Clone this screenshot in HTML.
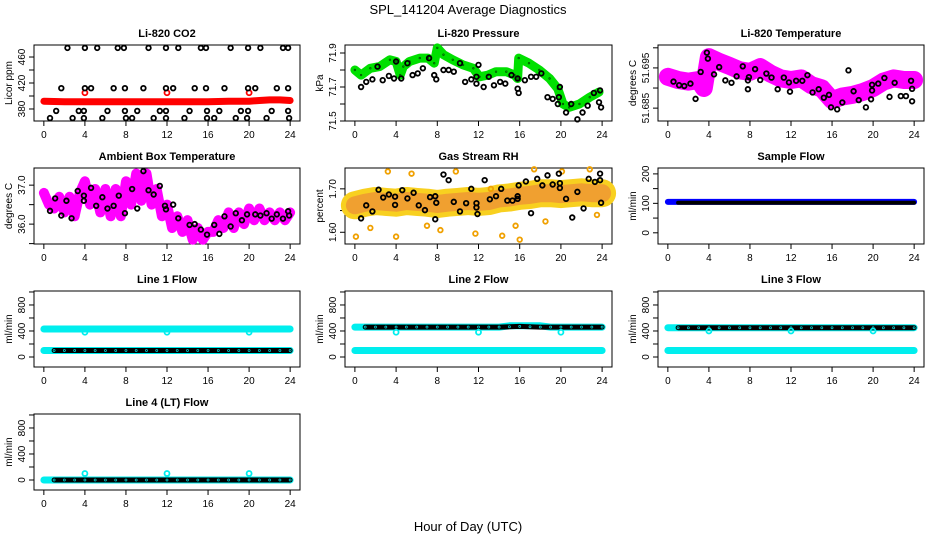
<!DOCTYPE html>
<html><head><meta charset="utf-8"><style>
html,body{margin:0;padding:0;background:#fff;}
svg{display:block;font-family:"Liberation Sans",sans-serif;}
</style></head><body>
<svg id="chart" width="936" height="540" viewBox="0 0 936 540" xmlns="http://www.w3.org/2000/svg">
<rect width="936" height="540" fill="#fff"/>
<text x="468" y="14" text-anchor="middle" font-size="13">SPL_141204  Average Diagnostics</text>
<text x="468" y="531" text-anchor="middle" font-size="13">Hour of Day (UTC)</text>
</svg>
<script>
// ---------- data ----------
const hourTicks = [0,4,8,12,16,20,24];
// CO2
const co2RedHours = [0,2,4,6,8,10,12,14,16,18,20,21,22,23,24];
const co2RedVals  = [392,391,391,391,391,391,391,391,391,392,392,393,394,394,393];
const co2RedSpikeHours = [4,12,20];
const co2RedSpikeVals  = [405,405,405];
const co2BlackHours = [2.3,4.0,5.2,7.2,7.8,10.2,11.9,13.1,15.3,15.8,18.2,19.9,21.1,23.3,23.8,
 1.7,4.0,4.6,6.8,7.9,9.7,11.9,12.6,14.7,15.8,17.6,19.9,20.6,22.7,23.8,
 1.2,3.4,3.9,6.2,7.9,9.1,11.3,11.9,14.2,15.9,17.1,19.2,19.9,22.2,23.8,
 0.6,2.8,3.9,5.7,8.0,8.6,10.7,11.9,13.7,15.9,16.6,18.7,19.8,21.7,23.9];
const co2BlackVals = [474,474,474,474,474,474,474,474,474,474,474,474,474,474,474,
 412,412,412,412,412,412,412,412,412,412,412,412,412,412,412,
 377,377,377,377,377,377,377,377,377,377,377,377,377,377,377,
 366,366,366,366,366,366,366,366,366,366,366,366,366,366,366];
// Pressure
const presGreenHours = [0,0.6,1.5,2.4,3.4,4,4.4,4.7,5.3,6.3,7.1,7.7,8,8.6,9.5,10.5,11.5,12.1,12.9,13.7,14.7,15.5,15.8,15.9,16.9,17.9,18.9,19.7,20.2,20.8,21.8,22.8,23.7];
const presGreenVals  = [71.80,71.77,71.81,71.82,71.86,71.85,71.77,71.82,71.85,71.87,71.87,71.84,71.93,71.89,71.86,71.83,71.81,71.76,71.77,71.79,71.79,71.77,71.75,71.87,71.84,71.80,71.75,71.69,71.60,71.58,71.60,71.64,71.67];
const presBlackHours = [0.6,1.1,1.7,2.2,2.7,3.3,3.8,4,4.5,5.1,5.6,6.1,6.6,7.2,7.7,7.9,8.6,9.1,9.6,10.2,10.7,11.3,11.8,11.8,12,12.5,13,13.5,14.1,14.6,15.2,15.8,15.8,15.9,16.5,17.1,17.6,18.1,18.7,19.2,19.7,19.8,19.9,20.5,21,21.6,22.1,22.6,23.2,23.7,23.9,23.8];
const presBlackVals  = [71.70,71.73,71.745,71.82,71.74,71.765,71.75,71.85,71.75,71.84,71.77,71.78,71.81,71.87,71.77,71.745,71.80,71.80,71.79,71.84,71.73,71.745,71.76,71.72,71.83,71.70,71.76,71.71,71.73,71.72,71.77,71.75,71.69,71.665,71.74,71.76,71.76,71.78,71.64,71.63,71.60,71.64,71.70,71.55,71.60,71.51,71.55,71.59,71.665,71.61,71.58,71.68];
// Li-820 temperature
const ltMagHours = [0,1,2,3,3.5,4,5,6,7,8,9,10,11,12,13,14,15,16,17,18,19,20,21,22,23,24];
const ltMagVals  = [51.6928,51.692,51.6916,51.692,51.690,51.6977,51.6965,51.6955,51.6944,51.694,51.6952,51.6936,51.6924,51.692,51.6924,51.6907,51.6899,51.687,51.6879,51.6883,51.689,51.690,51.6916,51.6924,51.692,51.692];
const ltBlackHours = [0.55,1.1,1.6,2.2,2.7,3.2,3.8,3.9,4.5,5,5.6,6.2,6.7,7.3,7.8,7.8,7.9,8.5,9,9.6,10.1,10.7,11.3,11.8,11.9,12.5,13.1,13.6,14.1,14.7,15.2,15.7,15.9,16.5,17,17.6,18.1,18.6,19.3,19.8,19.9,19.9,20.5,21.1,21.6,22.1,22.7,23.2,23.7,23.8,23.8];
const ltBlackVals  = [51.6916,51.6907,51.6905,51.6911,51.6873,51.694,51.6988,51.6973,51.6934,51.6952,51.6919,51.6913,51.6929,51.6954,51.6919,51.6897,51.6927,51.6947,51.6920,51.6936,51.6926,51.6897,51.6926,51.6914,51.6891,51.6918,51.6918,51.6932,51.6889,51.6897,51.6876,51.6883,51.6852,51.6847,51.6864,51.6944,51.6892,51.6870,51.6852,51.6872,51.6894,51.6908,51.6911,51.6925,51.6878,51.6913,51.6880,51.6880,51.6918,51.6898,51.6867];
// Ambient box temperature
const abMagHours = [0,0.5,1,1.5,2,2.5,3,3.5,4,4.5,5,5.5,6,6.5,7,7.5,8,8.5,9,9.5,10,10.5,11,11.5,12,12.5,13,13.5,14,14.5,15,15.5,16,16.5,17,17.5,18,18.5,19,19.5,20,20.5,21,21.5,22,22.5,23,23.5,24];
const abMagVals  = [36.8,36.5,36.4,36.7,36.3,36.7,36.2,36.8,37.1,36.5,36.9,36.3,36.9,36.2,36.9,36.2,37.1,36.5,37.3,36.6,37.3,36.5,36.9,36.2,36.5,35.9,36.2,35.8,36.1,35.6,35.9,35.6,35.8,35.8,36.1,35.9,36.3,35.9,36.3,36.0,36.4,36.1,36.4,36.1,36.3,36.1,36.3,36.1,36.3];
const abBlackHours = [0.6,1.1,1.7,2.2,2.7,3.3,3.9,3.9,4.6,5.1,5.7,6.2,6.8,7.3,7.9,8.6,9.1,9.7,10.2,10.7,11.3,11.8,11.9,12.6,13.1,14.2,14.7,15.3,15.9,16.6,17.1,17.6,18.2,18.7,19.3,19.8,20.6,21.1,21.7,22.2,22.7,23.3,23.8,23.9];
const abBlackVals  = [36.34,36.66,36.22,36.6,36.15,36.85,36.73,36.6,36.93,36.47,36.69,36.4,36.47,36.73,36.28,36.9,36.4,37.36,36.87,36.76,36.98,36.47,36.38,36.5,36.15,35.98,36.0,35.86,35.73,35.98,35.75,36.2,35.94,36.28,36.1,36.25,36.25,36.22,36.28,36.14,36.25,36.14,36.33,36.22];
// Gas stream RH
const rhCloudHours = [0,1,2,3,4,5,6,7,8,9,10,11,12,13,14,15,16,17,18,19,20,21,22,23,24];
const rhCloudVals  = [1.662,1.668,1.672,1.670,1.668,1.672,1.670,1.668,1.665,1.668,1.670,1.672,1.670,1.672,1.678,1.680,1.684,1.686,1.690,1.690,1.688,1.690,1.692,1.690,1.690];
const rhYellowHours = [0.1,1.5,3.2,4.0,5.5,7.0,8.3,9.8,11.7,13.2,14.3,15.6,16.0,17.4,18.5,20.1,22.8,23.5];
const rhYellowVals  = [1.590,1.610,1.740,1.590,1.735,1.615,1.605,1.740,1.597,1.700,1.592,1.615,1.583,1.745,1.625,1.740,1.745,1.640];
const rhBlackHours = [0.6,1.1,1.7,2.3,2.75,3.3,3.9,3.9,4.6,5.1,5.7,6.2,6.8,7.3,7.8,7.8,7.9,8.6,9.1,9.6,10.2,10.8,11.3,11.8,11.8,11.9,12.6,13.1,13.7,14.2,14.8,15.3,15.8,15.8,15.9,16.6,17.1,17.7,18.2,18.7,19.2,19.8,19.9,19.9,20.5,21.1,21.6,22.2,22.7,23.3,23.8,23.8,23.9];
const rhBlackVals  = [1.632,1.662,1.648,1.698,1.68,1.687,1.682,1.663,1.697,1.678,1.691,1.662,1.651,1.681,1.683,1.63,1.668,1.733,1.72,1.67,1.648,1.667,1.70,1.667,1.657,1.642,1.72,1.676,1.683,1.70,1.673,1.673,1.683,1.677,1.708,1.717,1.644,1.723,1.708,1.731,1.71,1.735,1.713,1.702,1.677,1.634,1.693,1.655,1.723,1.716,1.735,1.72,1.668];
// Flows (hourly values)
const flowHours = [0,1,2,3,4,5,6,7,8,9,10,11,12,13,14,15,16,17,18,19,20,21,22,23,24];
const sampleBlue  = [105,105,105,105,105,105,105,105,105,105,105,105,105,105,105,105,105,105,105,105,105,105,105,105,105];
const sampleBlack = [null,102,102,102,102,102,102,102,102,102,102,102,102,102,102,102,102,102,102,102,102,102,102,102,102];
const line1CyanHigh = [430,430,430,430,430,430,430,430,430,430,430,430,430,430,430,430,430,430,430,430,430,430,430,430,430];
const line1CyanLow  = [100,100,100,100,100,100,100,100,100,100,100,100,100,100,100,100,100,100,100,100,100,100,100,100,100];
const line1Black    = [null,100,100,100,100,100,100,100,100,100,100,100,100,100,100,100,100,100,100,100,100,100,100,100,100];
const line2CyanHigh = [460,460,460,460,460,460,460,460,460,460,460,460,460,460,460,480,480,480,480,460,460,460,460,460,460];
const line2CyanLow  = [100,100,100,100,100,100,100,100,100,100,100,100,100,100,100,100,100,100,100,100,100,100,100,100,100];
const line2Black    = [null,460,460,460,460,460,460,460,460,460,460,460,460,460,460,465,470,465,460,460,460,460,460,460,460];
const line3CyanHigh = [450,450,450,450,450,450,450,450,450,450,450,450,450,450,450,450,450,450,450,450,450,450,450,450,450];
const line3CyanLow  = [100,100,100,100,100,100,100,100,100,100,100,100,100,100,100,100,100,100,100,100,100,100,100,100,100];
const line3Black    = [null,450,450,450,450,450,450,450,450,450,450,450,450,450,450,450,450,450,450,450,450,450,450,450,450];
const line4Cyan     = [0,0,0,0,0,0,0,0,0,0,0,0,0,0,0,0,0,0,0,0,0,0,0,0,0];
const line4Black    = [null,0,0,0,0,0,0,0,0,0,0,0,0,0,0,0,0,0,0,0,0,0,0,0,0];
const flowDipHours  = [4,12,20];
const line1Dips = [380,380,380];
const line2Dips = [380,380,380];
const line3Dips = [400,400,400];
const line4Spikes = [100,100,100];

// ---------- drawing ----------
const NS = "http://www.w3.org/2000/svg";
const svg = document.getElementById('chart');
const colX = [34,345,658], colW = [266,267,266];
const rowY = [45,168,291,414], rowH = 76;

function mk(tag, attrs, parent){const e=document.createElementNS(NS,tag);for(const k in attrs)e.setAttribute(k,attrs[k]);parent.appendChild(e);return e;}

function panel(name, title, ytitle, col, row, ymax, ymin, ticks, labels, digits){
  const g = mk('g',{},svg);
  
  
  const bx=colX[col], by=rowY[row], bw=colW[col];
  const P = {g, bx, by, bw,
    x: h => bx + (h+0.96)/25.92*bw,
    y: v => by + (ymax - v)/(ymax - ymin)*rowH};
  const r = mk('rect',{x:bx,y:by,width:bw,height:rowH,fill:'none',stroke:'#000','stroke-width':1},g);
  
  
  const t = mk('text',{x:bx+bw/2,y:by-8,'text-anchor':'middle','font-size':11,'font-weight':'bold'},g);
  t.textContent = title;
  
  
  const yt = mk('text',{transform:`translate(${bx-22},${by+rowH/2}) rotate(-90)`,'text-anchor':'middle','font-size':10},g);
  yt.textContent = ytitle;
  
  
  hourTicks.forEach(h=>{
    const xx=P.x(h);
    mk('line',{x1:xx,x2:xx,y1:by+rowH,y2:by+rowH+5,stroke:'#000'},g);
    const lb=mk('text',{x:xx,y:by+rowH+17,'text-anchor':'middle','font-size':10},g);
    lb.textContent=String(h);
    
    
  });
  mk('line',{x1:P.x(0),x2:P.x(24),y1:by+rowH,y2:by+rowH,stroke:'#000'},g);
  ticks.forEach(v=>{
    const yy=P.y(v);
    mk('line',{x1:bx-5,x2:bx,y1:yy,y2:yy,stroke:'#000'},g);
  });
  labels.forEach(v=>{
    const yy=P.y(v);
    const lb=mk('text',{transform:`translate(${bx-9},${yy}) rotate(-90)`,'text-anchor':'middle','font-size':10},g);
    lb.textContent = digits===undefined ? String(v) : v.toFixed(digits);
    
    
  });
  const plot = mk('g',{},g);
  return Object.assign(P,{plot});
}

function band(P, hrs, vals, color, width, nm){
  const pts=[];
  hrs.forEach((h,i)=>{ if(vals[i]!==null) pts.push(P.x(h).toFixed(1)+','+P.y(vals[i]).toFixed(1)); });
  const pl = mk('polyline',{points:pts.join(' '),fill:'none',stroke:color,'stroke-width':width,'stroke-linejoin':'round','stroke-linecap':'round'},P.plot);
  
  
}
function points(P, hrs, vals, color, r, sw, nm){
  hrs.forEach((h,i)=>{
    if(vals[i]===null) return;
    const c = mk('circle',{cx:P.x(h),cy:P.y(vals[i]),r:r,fill:'none',stroke:color,'stroke-width':sw},P.plot);
    
    
  });
}

// Li-820 CO2
let P = panel('co2','Li-820 CO2','Licor ppm',0,0,478.5,361.5,[380,400,420,440,460],[380,420,460]);
band(P, co2RedHours, co2RedVals, '#ff0000', 7, 'co2-red-series');
points(P, co2RedSpikeHours, co2RedSpikeVals, '#ff0000', 2.5, 1.8, 'co2-red-point');
points(P, co2BlackHours, co2BlackVals, '#000', 2.3, 1.8, 'co2-black-point');

// Pressure
P = panel('pressure','Li-820 Pressure','kPa',1,0,71.947,71.5,[71.5,71.6,71.7,71.8,71.9],[71.5,71.7,71.9],1);
band(P, presGreenHours, presGreenVals, '#00e000', 9, 'pressure-green-series');
points(P, presGreenHours, presGreenVals, '#005500', 0.8, 0.8, 'pressure-green-point');
points(P, presBlackHours, presBlackVals, '#000', 2.3, 1.8, 'pressure-black-point');

// Li-820 Temperature
P = panel('li820-temp','Li-820 Temperature','degrees C',2,0,51.7007,51.6818,[51.685,51.69,51.695,51.7],[51.685,51.695],3);
band(P, ltMagHours, ltMagVals, '#ff00ff', 18, 'li820-temp-magenta-series');
points(P, ltBlackHours, ltBlackVals, '#000', 2.3, 1.8, 'li820-temp-black-point');

// Ambient
P = panel('ambient','Ambient Box Temperature','degrees C',0,1,37.44,35.49,[35.5,36.0,36.5,37.0],[36.0,37.0],1);
band(P, abMagHours, abMagVals, '#ff00ff', 10, 'ambient-magenta-series');
points(P, abBlackHours, abBlackVals, '#000', 2.3, 1.8, 'ambient-black-point');

// RH
P = panel('rh','Gas Stream RH','percent',1,1,1.748,1.573,[1.6,1.65,1.7],[1.6,1.7],2);
band(P, rhCloudHours, rhCloudVals, '#f8d020', 28, 'rh-yellow-cloud');
band(P, rhCloudHours, rhCloudVals, '#f0a030', 18, 'rh-orange-cloud');
points(P, rhYellowHours, rhYellowVals, '#f0a000', 2.3, 1.8, 'rh-outlier-point');
points(P, rhBlackHours, rhBlackVals, '#000', 2.3, 1.8, 'rh-black-point');

// Sample flow
P = panel('sample-flow','Sample Flow','ml/min',2,1,220,-38,[0,50,100,150,200],[0,100,200]);
band(P, flowHours, sampleBlue, '#0000ff', 6, 'sample-flow-blue-series');
band(P, flowHours, sampleBlack, '#000', 4, 'sample-flow-black-series');

const fT=[0,200,400,600,800,1000], fL=[0,400,800];
function flowPanel(name,title,col,row,hi,lo,blk,dips){
  const Q = panel(name,title,'ml/min',col,row,1015,-154,fT,fL);
  if(hi) band(Q, flowHours, hi, '#00eeee', 7, name+'-cyan-high');
  if(lo) band(Q, flowHours, lo, '#00eeee', 7, name+'-cyan-low');
  band(Q, flowHours, blk, '#000', 5, name+'-black-series');
  points(Q, flowHours, blk, '#00cccc', 1, 0.8, name+'-black-point');
  points(Q, flowDipHours, dips, '#00eeee', 2.5, 1.8, name+'-cyan-dip');
  return Q;
}
flowPanel('line1-flow','Line 1 Flow',0,2,line1CyanHigh,line1CyanLow,line1Black,line1Dips);
flowPanel('line2-flow','Line 2 Flow',1,2,line2CyanHigh,line2CyanLow,line2Black,line2Dips);
flowPanel('line3-flow','Line 3 Flow',2,2,line3CyanHigh,line3CyanLow,line3Black,line3Dips);
flowPanel('line4-flow','Line 4 (LT) Flow',0,3,line4Cyan,null,line4Black,line4Spikes);
</script>
</body></html>
